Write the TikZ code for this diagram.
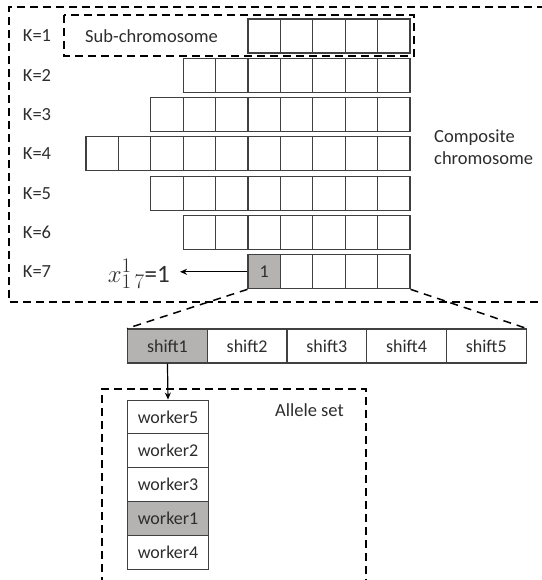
\documentclass[tikz,border=0pt]{standalone}
\usepackage{fontspec}
\setmainfont{Carlito}
\usetikzlibrary{arrows.meta}
\definecolor{ink}{RGB}{64,64,64}
\definecolor{txt}{RGB}{45,45,45}
\definecolor{pick}{RGB}{181,178,178}
\begin{document}
\begin{tikzpicture}[x=1pt,y=-1pt,
  cell/.style={draw=ink, line width=1.1pt, inner sep=0pt,
    minimum width=32.4pt, minimum height=34pt, text=txt,
    font=\fontsize{18}{20}\selectfont},
  shiftcell/.style={cell, minimum width=79.7pt},
  workercell/.style={cell, minimum width=81pt, minimum height=33.8pt},
  lbl/.style={text=txt, inner sep=0pt, font=\fontsize{18.5}{22}\selectfont},
  dashbox/.style={draw=black, line width=1.7pt, dash pattern=on 8pt off 5pt},
  zoomline/.style={draw=black, line width=1.5pt, dash pattern=on 8pt off 6pt},
  link/.style={draw=black, line width=1.2pt, -{Stealth[length=7pt,width=6pt]}}
]
\useasboundingbox (0,0) rectangle (541,580);

% composite chromosome frame (open to the right)
\draw[dashbox] (545,7) -- (9,7) -- (9,302) -- (545,302);

% sub-chromosome rows K=1..7, right aligned
\foreach \n [count=\k] in {5,7,8,10,8,7,5} {
  \pgfmathsetmacro\yc{36+(\k-1)*39.3}
  \node[lbl] (k\k) at (37,\yc) {K=\k};
  \foreach \i in {1,...,\n} {
    \pgfmathsetmacro\xc{410-(\n-\i+0.5)*32.4}
    \node[cell] (c-\k-\i) at (\xc,\yc) {};
  }
}
\node[cell, fill=pick] (gene) at (c-7-1.center) {1};

% sub-chromosome frame and labels
\draw[dashbox] (64,15) rectangle (414,56);
\node[lbl] (sublbl) at (151.5,36) {Sub-chromosome};
\node[lbl, anchor=west, align=left] (complbl) at (434,147) {Composite\\chromosome};

% decoded gene value
\node[text=txt, inner sep=0pt, font=\fontsize{25}{28}\selectfont, anchor=base east] (xval) at (170,282)
  {{\fontsize{28}{30}\selectfont$x^{1}_{1\,7}$}=1};
\draw[link] (gene.west) -- ([xshift=10pt]gene.west -| xval.east);

% shift row
\foreach \s [count=\j] in {shift1,shift2,shift3,shift4,shift5} {
  \pgfmathsetmacro\xc{127.6+(\j-0.5)*79.7}
  \node[shiftcell] (s\j) at (\xc,346) {\s};
}
\node[shiftcell, fill=pick] (s1) at (s1.center) {shift1};

\draw[zoomline] (c-7-1.south west) -- (s1.north west);
\draw[zoomline] (c-7-5.south east) -- (s5.north east);

% allele set
\draw[dashbox] (102,585) -- (102,389) -- (366,389) -- (366,585);
\node[lbl] (allelelbl) at (309.5,410.5) {Allele set};
\foreach \w [count=\j] in {worker5,worker2,worker3,worker1,worker4} {
  \pgfmathsetmacro\yc{417+(\j-1)*33.8}
  \node[workercell] (w\j) at (168,\yc) {\w};
}
\node[workercell, fill=pick] (w4) at (w4.center) {worker1};

\draw[link] (s1.south) -- (w1.north);
\end{tikzpicture}
\end{document}
